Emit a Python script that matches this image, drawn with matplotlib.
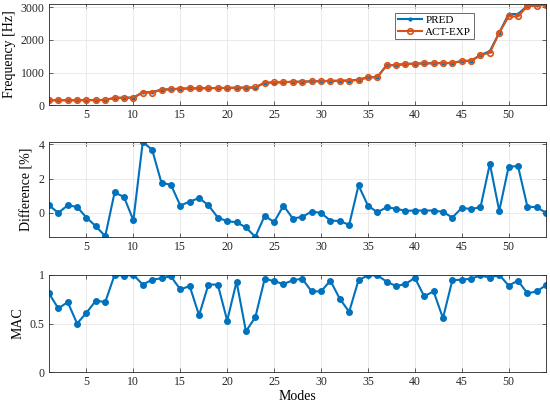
import numpy as np
import matplotlib
matplotlib.use('Agg')
import matplotlib.pyplot as plt

plt.rcParams['font.family'] = ['Liberation Serif', 'DejaVu Serif']

modes = np.arange(1, 55)

# measured (ACT-EXP) frequencies, Hz
freq_act = [150, 150, 150, 150, 155, 155, 160, 220, 225, 230,
            380, 385, 470, 480, 505, 510, 515, 520, 525, 530,
            535, 540, 545, 690, 695, 705, 715, 720, 730, 735,
            745, 750, 755, 770, 850, 860, 1220, 1230, 1260, 1270,
            1280, 1285, 1290, 1295, 1350, 1360, 1530, 1610, 2220, 2720,
            2720, 3040, 3050, 3080]

# predicted frequencies, Hz
freq_pred = [151, 150, 151, 151, 155, 154, 158, 223, 227, 229,
             396, 399, 478, 488, 507, 513, 519, 522, 524, 527,
             532, 535, 537, 689, 691, 708, 713, 718, 731, 735,
             742, 746, 750, 782, 854, 860, 1224, 1233, 1262, 1272,
             1282, 1287, 1291, 1291, 1354, 1363, 1535, 1656, 2223, 2793,
             2795, 3051, 3060, 3080]

# difference [%]
diff = [0.45, 0.0, 0.45, 0.35, -0.27, -0.78, -1.36, 1.2, 0.93, -0.43,
        4.15, 3.69, 1.75, 1.65, 0.43, 0.66, 0.87, 0.45, -0.27, -0.49,
        -0.54, -0.85, -1.4, -0.16, -0.54, 0.43, -0.33, -0.23, 0.08, 0.0,
        -0.45, -0.47, -0.7, 1.61, 0.43, 0.04, 0.33, 0.25, 0.12, 0.14,
        0.14, 0.14, 0.06, -0.27, 0.29, 0.23, 0.33, 2.87, 0.12, 2.7,
        2.74, 0.37, 0.33, 0.0]

# MAC values
mac = [0.81, 0.655, 0.72, 0.5, 0.61, 0.735, 0.72, 1.0, 0.99, 1.0,
       0.9, 0.95, 0.965, 0.985, 0.85, 0.885, 0.585, 0.9, 0.9, 0.53,
       0.93, 0.42, 0.565, 0.96, 0.935, 0.905, 0.945, 0.96, 0.83, 0.83,
       0.94, 0.755, 0.62, 0.945, 0.995, 0.995, 0.93, 0.885, 0.905, 0.97,
       0.78, 0.83, 0.555, 0.945, 0.95, 0.96, 0.995, 0.97, 1.0, 0.89,
       0.94, 0.81, 0.83, 0.895]

blue = '#0072BD'
orange = '#D95319'
xticks = [5, 10, 15, 20, 25, 30, 35, 40, 45, 50]

fig = plt.figure(figsize=(5.5, 4.09), dpi=100)
ax1 = fig.add_axes([0.089, 0.743, 0.904, 0.247])
ax2 = fig.add_axes([0.089, 0.42, 0.904, 0.233])
ax3 = fig.add_axes([0.089, 0.09, 0.904, 0.238])

ax1.plot(modes, freq_pred, '.-', color=blue, lw=1.5, ms=4, label='PRED')
ax1.plot(modes, freq_act, 'o-', color=orange, lw=1.5, ms=4,
         mfc='none', mew=1.2, label='ACT-EXP')
ax1.set_ylim(0, 3100)
ax1.set_yticks([0, 1000, 2000, 3000])
ax1.set_ylabel('Frequency [Hz]', fontsize=10)
ax1.yaxis.set_label_coords(-0.066, 0.5)
leg = ax1.legend(loc='upper right', bbox_to_anchor=(0.862, 0.969),
                 bbox_transform=fig.transFigure, fontsize=8,
                 frameon=True, fancybox=False, edgecolor='#262626',
                 handlelength=2.2, borderpad=0.25, labelspacing=0.15,
                 handletextpad=0.3, borderaxespad=0)
leg.get_frame().set_linewidth(0.6)

ax2.plot(modes, diff, '.-', color=blue, lw=1.5, ms=8)
ax2.set_ylim(-1.42, 4.15)
ax2.set_yticks([0, 2, 4])
ax2.set_ylabel('Difference [%]', fontsize=10)
ax2.yaxis.set_label_coords(-0.032, 0.5)

ax3.plot(modes, mac, '.-', color=blue, lw=1.5, ms=8)
ax3.set_ylim(0, 1)
ax3.set_yticks([0, 0.5, 1])
ax3.set_yticklabels(['0', '0.5', '1'])
ax3.set_ylabel('MAC', fontsize=10)
ax3.yaxis.set_label_coords(-0.05, 0.5)
ax3.set_xlabel('Modes', fontsize=10, labelpad=1)

for ax in (ax1, ax2, ax3):
    ax.set_xlim(1, 54)
    ax.set_xticks(xticks)
    ax.grid(True, color='#e6e6e6', lw=0.6)
    ax.set_axisbelow(True)
    ax.tick_params(direction='in', length=3, width=0.5, labelsize=8.5,
                   colors='#262626', top=True, right=True, pad=3)
    for s in ax.spines.values():
        s.set_linewidth(0.6)
        s.set_color('#262626')

fig.savefig('out.png', dpi=100)
